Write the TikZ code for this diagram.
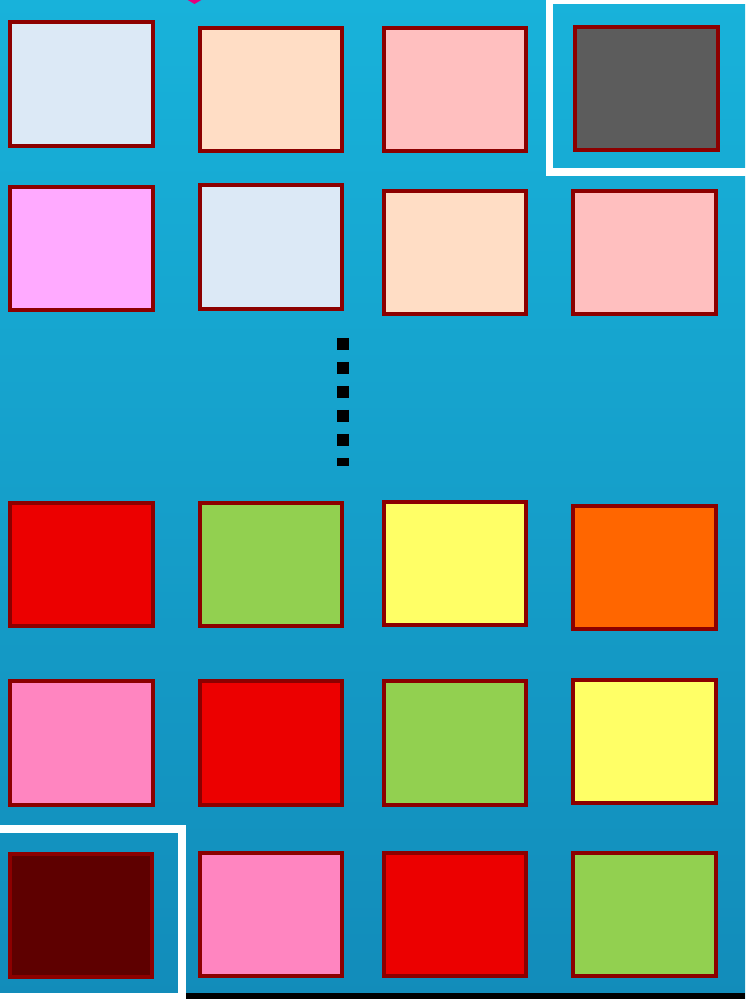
\documentclass[tikz,border=0pt]{standalone}
\usepackage{tikz}
\usetikzlibrary{positioning}
\usepackage{xcolor}
\definecolor{seatop}{RGB}{24,178,218}
\definecolor{seabot}{RGB}{18,140,186}
\definecolor{edge}{RGB}{140,0,0}
\definecolor{ltblue}{RGB}{220,233,246}
\definecolor{peach}{RGB}{255,221,197}
\definecolor{ltpink}{RGB}{255,191,191}
\definecolor{slate}{RGB}{92,92,92}
\definecolor{lilac}{RGB}{255,170,255}
\definecolor{cred}{RGB}{236,0,0}
\definecolor{cgreen}{RGB}{146,208,80}
\definecolor{cyellow}{RGB}{255,255,102}
\definecolor{corange}{RGB}{255,102,0}
\definecolor{cpink}{RGB}{255,133,192}
\definecolor{maroon}{RGB}{94,0,0}
\definecolor{tipmag}{RGB}{228,0,124}

\begin{document}
\begin{tikzpicture}[x=0.02cm, y=-0.02cm]
\tikzset{cell/.style={draw=edge, line width=0.08cm, minimum width=2.86cm, minimum height=2.48cm, inner sep=0pt}}
\tikzset{frame/.style={draw=white, line width=0.15cm}}
\useasboundingbox (0,0) rectangle (745,999);
\fill[top color=seatop, bottom color=seabot] (0,0) rectangle (745,999);
\fill[tipmag] (186,-1) -- (203,-1) -- (194.5,4) -- cycle;
% first row
\node[cell, fill=ltblue] (b11) at (81.5,84) {};
\node[cell, fill=peach] (b12) at (271,89.5) {};
\node[cell, fill=ltpink] (b13) at (455,89.5) {};
\node[cell, fill=slate] (b14) at (646,88.5) {};
% second row
\node[cell, fill=lilac] (b21) at (81.5,248.5) {};
\node[cell, fill=ltblue] (b22) at (271,247) {};
\node[cell, fill=peach] (b23) at (455,252.5) {};
\node[cell, fill=ltpink] (b24) at (644.5,252.5) {};
% vertical dots
\draw[line width=0.24cm, dash pattern=on 0.24cm off 0.24cm] (343,338) -- (343,466);
% third row
\node[cell, fill=cred] (b31) at (81.5,564.5) {};
\node[cell, fill=cgreen] (b32) at (271,564.5) {};
\node[cell, fill=cyellow] (b33) at (455,563.5) {};
\node[cell, fill=corange] (b34) at (644.5,567.5) {};
% fourth row
\node[cell, fill=cpink] (b41) at (81.5,743) {};
\node[cell, fill=cred] (b42) at (271,743) {};
\node[cell, fill=cgreen] (b43) at (455,743) {};
\node[cell, fill=cyellow] (b44) at (644.5,741.5) {};
% fifth row
\node[cell, fill=maroon] (b51) at (81,915.5) {};
\node[cell, fill=cpink] (b52) at (271,914.5) {};
\node[cell, fill=cred] (b53) at (455,914.5) {};
\node[cell, fill=cgreen] (b54) at (644.5,914.5) {};
% highlight frames
\draw[frame] (549.5,0) rectangle (752,172);
\draw[frame] (-5,829) rectangle (182,997);
\fill[black] (186,993) rectangle (745,999);
\end{tikzpicture}
\end{document}
